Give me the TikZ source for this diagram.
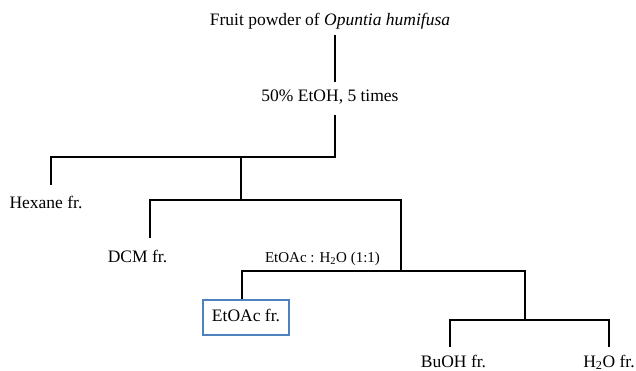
\documentclass[tikz,border=0pt]{standalone}
\usepackage{fontspec}
\setmainfont{Liberation Serif}
\definecolor{boxblue}{RGB}{79,129,189}

\begin{document}
\begin{tikzpicture}[x=1pt, y=-1pt,
	every node/.style={font=\fontsize{17.5}{20}\selectfont, text height=11pt, text depth=4pt, inner xsep=0pt, inner ysep=9pt},
	branch/.style={line width=1.8pt},
	fraction/.style={draw=boxblue, line width=1.4pt, minimum width=86pt, minimum height=35pt, inner ysep=0pt}]
	\useasboundingbox (0,0) rectangle (636,371);
	\node[anchor=base, inner ysep=5pt] (fruit) at (330,26) {Fruit powder of \textit{Opuntia humifusa}};
	\node[anchor=base] (ethanol) at (330,102) {50\% EtOH, 5 times};
	\node[anchor=base, inner ysep=12pt] (hexane) at (46,208) {Hexane fr.};
	\node[anchor=base, inner ysep=13pt] (dcm) at (137.5,262) {DCM fr.};
	\node[anchor=base, font=\fontsize{15}{17}\selectfont] (mix) at (322.5,262) {EtOAc : H\textsubscript{2}O (1:1)};
	\node[fraction] (etoac) at (246,317.5) {EtOAc fr.};
	\node[anchor=base] (buoh) at (453.5,367) {BuOH fr.};
	\node[anchor=base] (water) at (609,367) {H\textsubscript{2}O fr.};
	\coordinate (j0) at (335,157);
	\coordinate (hexL) at (51,157);
	\coordinate (j1) at (241,157);
	\coordinate (dcmL) at (150,200);
	\coordinate (j2) at (401,200);
	\coordinate (j3) at (401,271);
	\coordinate (eaL) at (242,271);
	\coordinate (aqR) at (525,271);
	\coordinate (buL) at (450,320);
	\coordinate (waR) at (609,320);
	\draw[branch] (fruit.south -| j0) -- (ethanol.north -| j0);
	\draw[branch] (ethanol.south -| j0) -- (j0) -- (hexL) -- (hexane.north -| hexL);
	\draw[branch] (j1) -- (j1 |- dcmL);
	\draw[branch] (dcm.north -| dcmL) -- (dcmL) -- (j2) -- (j3);
	\draw[branch] (etoac.north -| eaL) -- (eaL) -- (aqR) -- (aqR |- buL);
	\draw[branch] (buoh.north -| buL) -- (buL) -- (waR) -- (water.north -| waR);
\end{tikzpicture}
\end{document}
